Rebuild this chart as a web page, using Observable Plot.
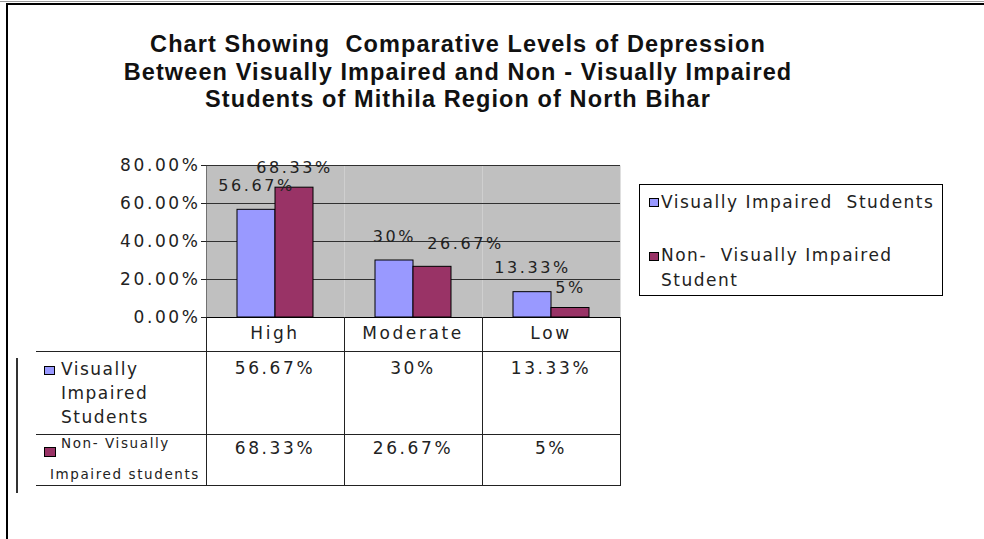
<!DOCTYPE html>
<html><head><meta charset="utf-8">
<script src="https://cdn.jsdelivr.net/npm/d3@7"></script>
<script src="https://cdn.jsdelivr.net/npm/@observablehq/plot@0.6"></script>
<style>
body{margin:0;background:#fff;}
#wrap{position:relative;width:984px;height:539px;overflow:hidden;background:#fff;font-family:"DejaVu Sans",sans-serif;color:#000;}
.abs{position:absolute;}
.line{position:absolute;background:#222;}
.title{position:absolute;left:0;width:916px;top:31px;text-align:center;font-family:"Liberation Sans",Arial,sans-serif;font-weight:bold;font-size:23.5px;line-height:27.5px;letter-spacing:1.1px;white-space:pre;color:#111;}
.t16{font-size:17px;line-height:24px;letter-spacing:1.5px;white-space:pre;color:#222;}
.num{font-size:17px;line-height:24px;letter-spacing:2.6px;white-space:pre;text-align:center;color:#222;}
.sw{position:absolute;border:1px solid #000;box-sizing:border-box;}
</style></head><body><div id="wrap"></div><script>
// ---- data ----
const titleLines = [
  "Chart Showing  Comparative Levels of Depression",
  "Between Visually Impaired and Non - Visually Impaired",
  "Students of Mithila Region of North Bihar"
];
const levels = ["High", "Moderate", "Low"];
const seriesNames = ["Visually Impaired Students", "Non- Visually Impaired Student"];
const legendLines = [["Visually Impaired  Students"], ["Non-  Visually Impaired", "Student"]];
const tableRowLabels = [["Visually", "Impaired", "Students"], ["Non- Visually", "Impaired students"]];
const viValues = [0.5667, 0.30, 0.1333];
const nviValues = [0.6833, 0.2667, 0.05];
const yTicks = [0, 0.2, 0.4, 0.6, 0.8];
const colors = ["#9999ff", "#993366"];

// ---- build ----
const rows = levels.flatMap((lv, i) => [
  {level: lv, series: seriesNames[0], value: viValues[i]},
  {level: lv, series: seriesNames[1], value: nviValues[i]}
]);
const fmt = d3.format(".2~%");
const wrap = document.getElementById("wrap");

const W = 640, H = 317, ML = 205, MT = 165, MR = 20;
const isShifted = d => d.level === "Moderate" && d.series === seriesNames[1];
const labelStyle = {x: "series", y: "value", text: d => fmt(d.value), fill: "#222", fontSize: 16};
const plot = Plot.plot({
  width: W, height: H,
  marginLeft: ML, marginTop: MT, marginRight: MR, marginBottom: 0,
  facet: {data: rows, x: "level"},
  fx: {domain: levels, padding: 0, axis: null},
  x: {domain: seriesNames, paddingInner: 0, paddingOuter: 0.773, axis: null},
  y: {domain: [0, 0.8], ticks: yTicks, tickFormat: d3.format(".2%"), tickSize: 5, tickPadding: 1, label: null, line: true},
  color: {domain: seriesNames, range: colors},
  style: {fontFamily: "DejaVu Sans", fontSize: "17px", letterSpacing: "2.6px", background: "transparent", overflow: "visible", color: "#222"},
  marks: [
    Plot.frame({fill: "#c0c0c0", stroke: null}),
    Plot.ruleY(yTicks.filter(d => d > 0), {stroke: "#303030", strokeWidth: 1.2}),
    Plot.barY(rows, {x: "series", y: "value", fill: "series", stroke: "#000", strokeWidth: 1}),
    Plot.ruleY([0], {stroke: "#000"}),
    Plot.text(rows, {...labelStyle, filter: d => d.series === seriesNames[0], dy: -24}),
    Plot.text(rows, {...labelStyle, filter: d => d.series === seriesNames[1] && !isShifted(d), dy: -20}),
    Plot.text(rows, {...labelStyle, filter: isShifted, dy: -23, dx: 33})
  ]
});
plot.style.position = "absolute";
plot.style.left = "0px";
plot.style.top = "0px";
wrap.appendChild(plot);

function el(cls, css, text) {
  const d = document.createElement("div");
  d.className = cls;
  Object.assign(d.style, css);
  if (text != null) d.textContent = text;
  wrap.appendChild(d);
  return d;
}
// outer border
el("line", {left: "6px", top: "3px", width: "978px", height: "2px", background: "#000"});
el("line", {left: "0px", top: "1px", width: "984px", height: "1px", background: "#999"});
el("line", {left: "6px", top: "3px", width: "2px", height: "536px", background: "#000"});

// title
el("title", {}, titleLines.join("\n"));

// column geometry from the fx scale
let colX, colW;
try {
  const fxs = plot.scale("fx");
  colW = fxs.bandwidth;
  colX = levels.map(l => fxs.apply(l));
  if (!isFinite(colW) || colX.some(v => !isFinite(v))) throw 0;
} catch (e) {
  colW = (W - ML - MR) / levels.length;
  colX = levels.map((l, i) => ML + i * colW);
}
const right = colX[colX.length - 1] + colW;
const yTop = H, yHead = 351, yDiv = 434, yBot = 485;

// table lines
el("line", {left: "36px", top: yHead + "px", width: (right - 36) + "px", height: "1px"});
el("line", {left: "36px", top: yDiv + "px", width: (right - 36) + "px", height: "1px"});
el("line", {left: "36px", top: yBot + "px", width: (right - 36 + 1) + "px", height: "1px"});
[...colX, right].forEach(x => el("line", {left: Math.round(x) + "px", top: yTop + "px", width: "1px", height: (yBot - yTop) + "px"}));
el("line", {left: "16px", top: "358px", width: "2px", height: "135px", background: "#333"});

// header and values
levels.forEach((lv, i) => {
  el("abs num", {left: colX[i] + "px", width: colW + "px", top: (333 - 12) + "px"}, lv);
  el("abs num", {left: colX[i] + "px", width: colW + "px", top: (368 - 12) + "px"}, fmt(viValues[i]));
  el("abs num", {left: colX[i] + "px", width: colW + "px", top: (448 - 12) + "px"}, fmt(nviValues[i]));
});

// row labels
el("sw", {left: "44px", top: "366px", width: "11px", height: "9px", background: colors[0]});
tableRowLabels[0].forEach((t, k) => el("abs t16", {left: "61px", top: (369 - 12 + k * 24) + "px"}, t));
el("sw", {left: "44px", top: "447px", width: "12px", height: "10px", background: colors[1]});
el("abs", {left: "61px", top: (443 - 10) + "px", fontSize: "13.5px", lineHeight: "20px", letterSpacing: "1.6px", whiteSpace: "pre", color: "#222"}, tableRowLabels[1][0]);
el("abs", {left: "50px", top: (474 - 10) + "px", fontSize: "13.5px", lineHeight: "20px", letterSpacing: "1.6px", whiteSpace: "pre", color: "#222"}, tableRowLabels[1][1]);

// legend
el("abs", {left: "639px", top: "184px", width: "304px", height: "112px", border: "1px solid #000", boxSizing: "border-box"});
el("sw", {left: "649px", top: "198px", width: "10px", height: "9px", background: colors[0]});
el("abs t16", {left: "661px", top: (202 - 12) + "px"}, legendLines[0][0]);
el("sw", {left: "649px", top: "252px", width: "10px", height: "9px", background: colors[1]});
legendLines[1].forEach((t, k) => el("abs t16", {left: "661px", top: (255 - 12 + k * 25) + "px"}, t));
</script></body></html>
